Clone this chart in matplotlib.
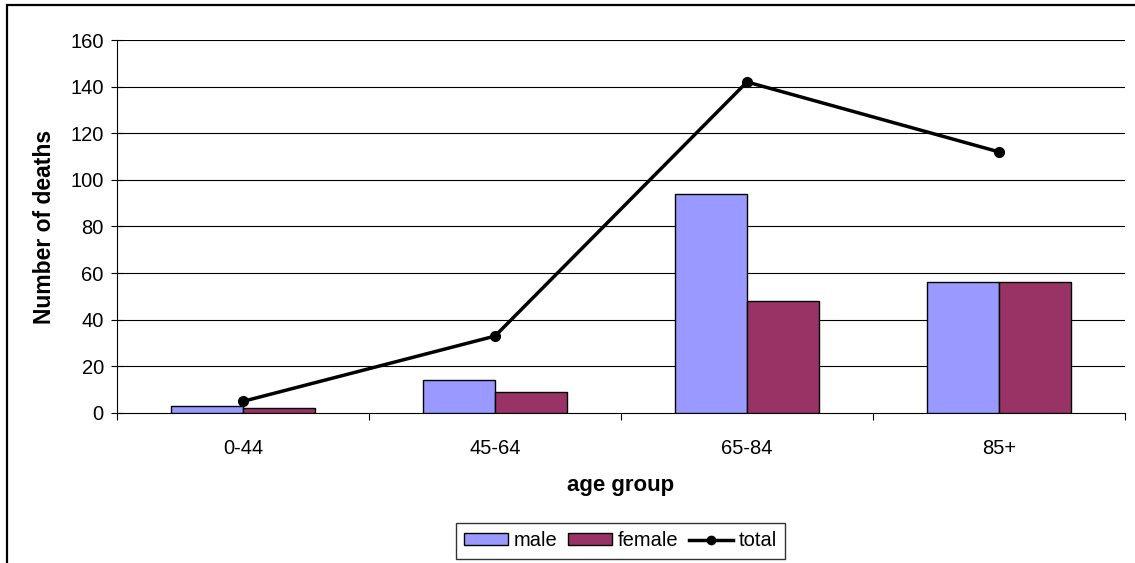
import numpy as np
import matplotlib
matplotlib.use('Agg')
import matplotlib.pyplot as plt
from matplotlib.patches import Rectangle, Patch
from matplotlib.lines import Line2D

plt.rcParams['font.family'] = ['Liberation Sans', 'DejaVu Sans']

groups = ['0-44', '45-64', '65-84', '85+']
male = [3, 14, 94, 56]
female = [2, 9, 48, 56]
total = [5, 33, 142, 112]

male_col = '#9999ff'
female_col = '#993366'

W, H = 1135, 563
fig = plt.figure(figsize=(W/100, H/100), dpi=100)
ax = fig.add_axes([117/W, 1-413/H, (1125-117)/W, (413-40)/H])

x = np.arange(len(groups))
bw = 0.286
ax.bar(x - bw/2, male, bw, color=male_col, edgecolor='black', linewidth=1.0, zorder=3)
ax.bar(x + bw/2, female, bw, color=female_col, edgecolor='black', linewidth=1.0, zorder=3)
ax.plot(x, total, color='black', lw=2.5, marker='o', ms=7, zorder=4)

ax.set_xlim(-0.5, 3.5)
ax.set_ylim(0, 160)
ax.set_yticks(np.arange(0, 161, 20))
for yv in range(20, 161, 20):
    ax.axhline(yv, color='black', lw=0.8, zorder=1)

ax.set_xticks(x)
ax.set_xticklabels(groups)
ax.set_xticks(np.arange(-0.5, 3.6, 1), minor=True)
ax.tick_params(axis='x', which='major', length=0, pad=19, labelsize=14.5)
ax.tick_params(axis='x', which='minor', length=5, width=0.8, direction='out')
ax.tick_params(axis='y', length=9, width=0.8, direction='inout', pad=5, labelsize=14.5)

for s in ['top', 'right']:
    ax.spines[s].set_visible(False)
for s in ['left', 'bottom']:
    ax.spines[s].set_linewidth(0.8)

ax.set_xlabel('age group', fontsize=16, fontweight='bold', labelpad=12)
ax.set_ylabel('Number of deaths', fontsize=16.5, fontweight='bold', labelpad=10)

handles = [Patch(facecolor=male_col, edgecolor='black', lw=1.0),
           Patch(facecolor=female_col, edgecolor='black', lw=1.0),
           Line2D([], [], color='black', lw=2.5, marker='o', ms=6)]
leg = fig.legend(handles, ['male', 'female', 'total'], ncol=3,
                 loc='center', bbox_to_anchor=(((458+783)/2)/W, 1-541/H),
                 fontsize=14.5, frameon=True, fancybox=False, handlelength=2.2,
                 handletextpad=0.3, columnspacing=0.5, borderpad=0.4,
                 handleheight=0.55)
leg.get_frame().set_edgecolor('black')
leg.get_frame().set_linewidth(1.0)

# outer chart border
fig.patches.append(Rectangle((7/W, -0.1), 1.2, 1-5/H+0.1, transform=fig.transFigure,
                             fill=False, edgecolor='black', lw=1.6))

fig.savefig('out.png', dpi=100)
